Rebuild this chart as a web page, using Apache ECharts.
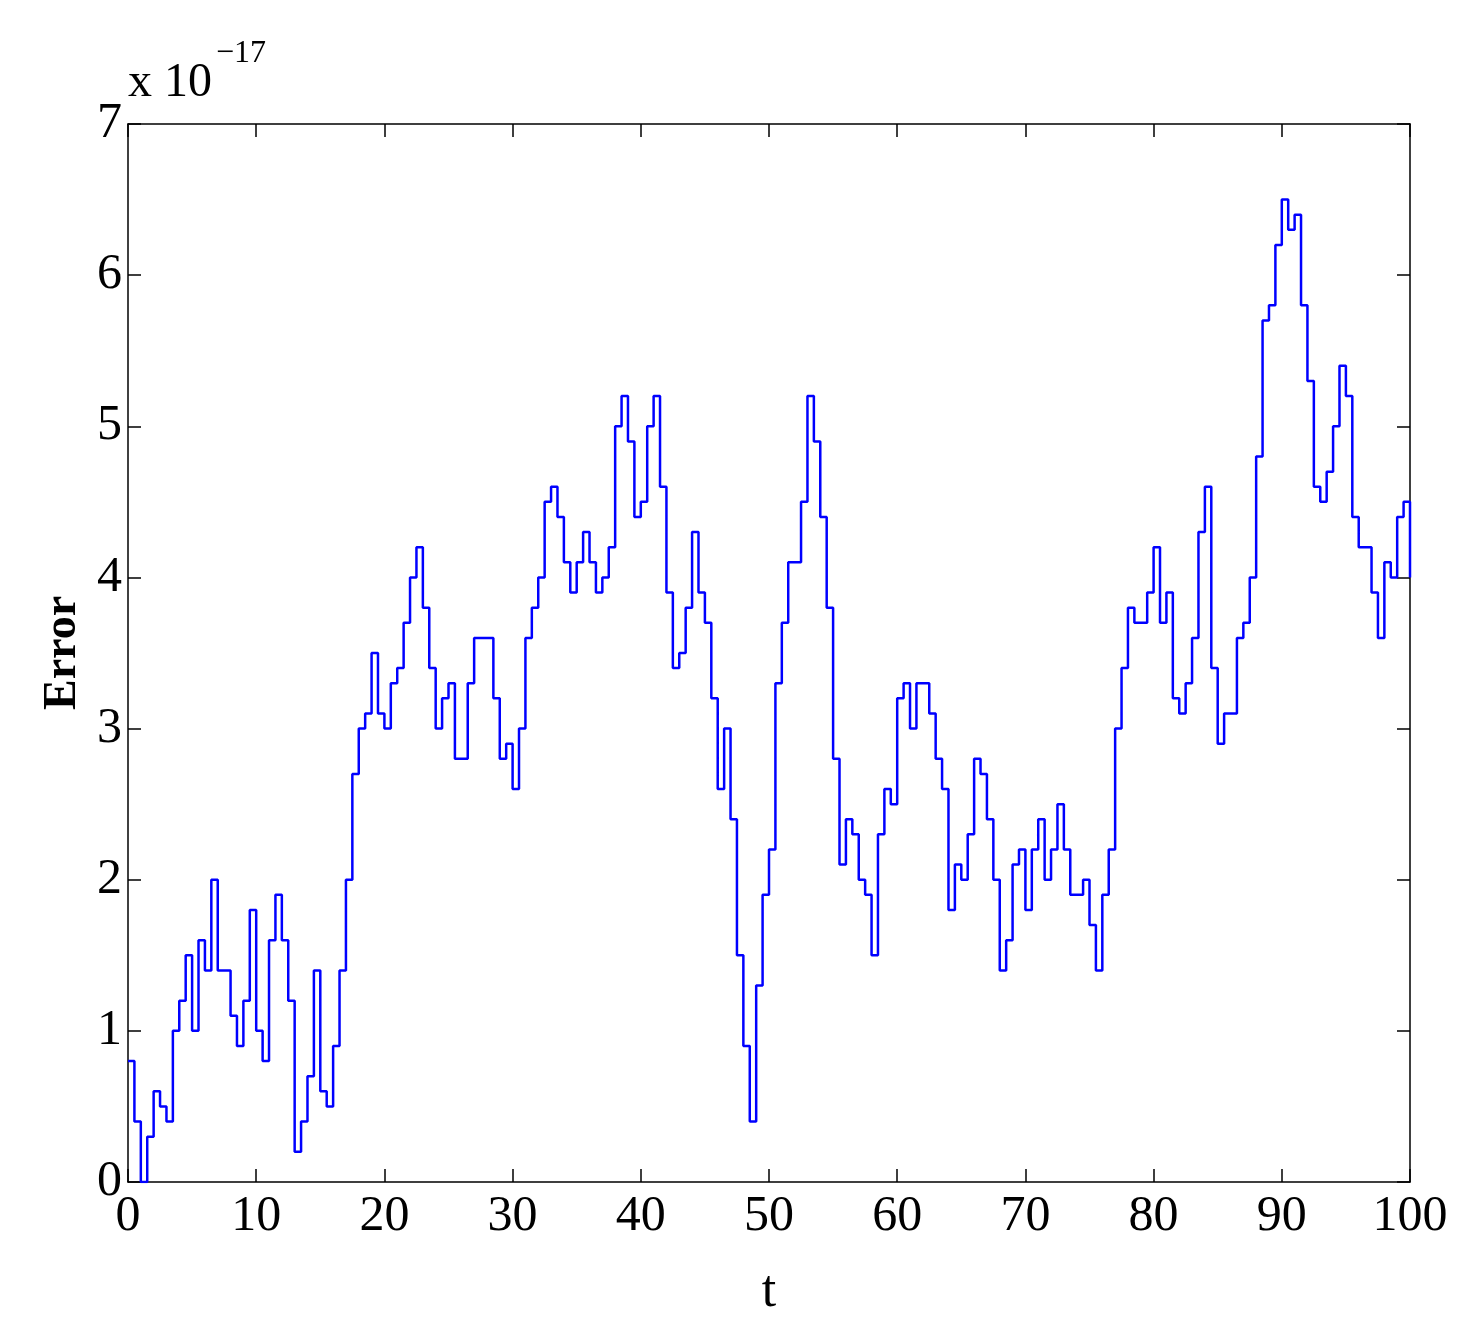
<!DOCTYPE html>
<html>
<head>
    <meta charset="UTF-8">
    <title>Error</title>
    <style type="text/css">
        html, body { margin: 0; padding: 0; background: #fff; }
        #chart { width: 1473px; height: 1342px; }
    </style>
    <script type="text/javascript" src="https://cdn.jsdelivr.net/npm/echarts@6/dist/echarts.min.js"></script>
</head>
<body>
<div id="chart"></div>
<script type="text/javascript">
    // t sampled every 0.5, error in units of 1e-17
    var tStep = 0.5;
    var errVals = [
        0.8, 0.4, 0.0, 0.3, 0.6, 0.5, 0.4, 1.0, 1.2, 1.5,
        1.0, 1.6, 1.4, 2.0, 1.4, 1.4, 1.1, 0.9, 1.2, 1.8,
        1.0, 0.8, 1.6, 1.9, 1.6, 1.2, 0.2, 0.4, 0.7, 1.4,
        0.6, 0.5, 0.9, 1.4, 2.0, 2.7, 3.0, 3.1, 3.5, 3.1,
        3.0, 3.3, 3.4, 3.7, 4.0, 4.2, 3.8, 3.4, 3.0, 3.2,
        3.3, 2.8, 2.8, 3.3, 3.6, 3.6, 3.6, 3.2, 2.8, 2.9,
        2.6, 3.0, 3.6, 3.8, 4.0, 4.5, 4.6, 4.4, 4.1, 3.9,
        4.1, 4.3, 4.1, 3.9, 4.0, 4.2, 5.0, 5.2, 4.9, 4.4,
        4.5, 5.0, 5.2, 4.6, 3.9, 3.4, 3.5, 3.8, 4.3, 3.9,
        3.7, 3.2, 2.6, 3.0, 2.4, 1.5, 0.9, 0.4, 1.3, 1.9,
        2.2, 3.3, 3.7, 4.1, 4.1, 4.5, 5.2, 4.9, 4.4, 3.8,
        2.8, 2.1, 2.4, 2.3, 2.0, 1.9, 1.5, 2.3, 2.6, 2.5,
        3.2, 3.3, 3.0, 3.3, 3.3, 3.1, 2.8, 2.6, 1.8, 2.1,
        2.0, 2.3, 2.8, 2.7, 2.4, 2.0, 1.4, 1.6, 2.1, 2.2,
        1.8, 2.2, 2.4, 2.0, 2.2, 2.5, 2.2, 1.9, 1.9, 2.0,
        1.7, 1.4, 1.9, 2.2, 3.0, 3.4, 3.8, 3.7, 3.7, 3.9,
        4.2, 3.7, 3.9, 3.2, 3.1, 3.3, 3.6, 4.3, 4.6, 3.4,
        2.9, 3.1, 3.1, 3.6, 3.7, 4.0, 4.8, 5.7, 5.8, 6.2,
        6.5, 6.3, 6.4, 5.8, 5.3, 4.6, 4.5, 4.7, 5.0, 5.4,
        5.2, 4.4, 4.2, 4.2, 3.9, 3.6, 4.1, 4.0, 4.4, 4.5,
        4.0
    ];

    var pts = errVals.map(function (v, i) { return [i * tStep, v]; });
    var font = '"Liberation Serif", "DejaVu Serif", serif';
    var chart = echarts.init(document.getElementById('chart'));

    function axisBase(extra) {
        var a = {
            axisLine: {show: true, onZero: false, lineStyle: {color: '#000', width: 1.5}},
            axisTick: {show: true, inside: true, length: 13, lineStyle: {color: '#000', width: 1.5}},
            splitLine: {show: false},
            axisLabel: {show: false}
        };
        for (var k in extra) a[k] = extra[k];
        return a;
    }

    chart.setOption({
        animation: false,
        grid: {left: 128, right: 63, top: 124, bottom: 160},
        xAxis: [
            axisBase({type: 'value', min: 0, max: 100, interval: 10, position: 'bottom',
                name: 't', nameLocation: 'middle', nameGap: 84,
                nameTextStyle: {fontFamily: font, fontSize: 52, color: '#000'},
                axisLabel: {show: true, fontFamily: font, fontSize: 50, color: '#000', margin: 10}}),
            axisBase({type: 'value', min: 0, max: 100, interval: 10, position: 'top'})
        ],
        yAxis: [
            axisBase({type: 'value', min: 0, max: 7, interval: 1, position: 'left',
                name: 'Error', nameLocation: 'middle', nameGap: 40,
                nameTextStyle: {fontFamily: font, fontSize: 46, fontWeight: 'bold', color: '#000'},
                axisLabel: {show: true, fontFamily: font, fontSize: 50, color: '#000', margin: 6}}),
            axisBase({type: 'value', min: 0, max: 7, interval: 1, position: 'right'})
        ],
        graphic: [{
            type: 'text', left: 128, top: 38,
            style: {
                text: '{a|x 10}{b|−17}',
                rich: {
                    a: {fontFamily: font, fontSize: 48, fill: '#000', padding: [34, 0, 0, 0]},
                    b: {fontFamily: font, fontSize: 32, fill: '#000', padding: [0, 0, 24, 4]}
                }
            }
        }],
        series: [{
            type: 'line', xAxisIndex: 0, yAxisIndex: 0,
            data: pts, showSymbol: false, step: 'end',
            lineStyle: {color: '#0000ff', width: 2.5}
        }]
    });
</script>
</body>
</html>
